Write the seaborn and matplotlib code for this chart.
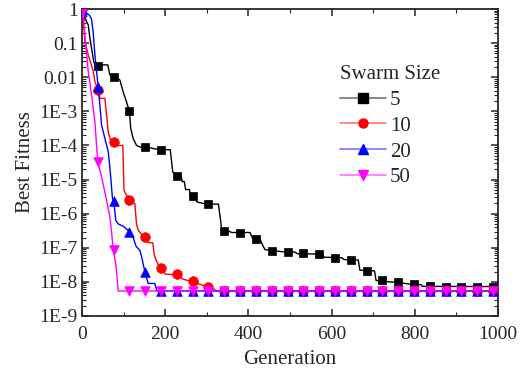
import numpy as np
import pandas as pd
import matplotlib
matplotlib.use("Agg")
import matplotlib.pyplot as plt
from matplotlib.lines import Line2D
from matplotlib.ticker import LogLocator, FixedLocator, FuncFormatter, MultipleLocator
import seaborn as sns

# ---------------- data ----------------
swarm_sizes = ["5", "10", "20", "50"]

# line traces: generation / best fitness
gen_5 = [0, 3, 8, 15, 19, 23, 28, 31, 62, 67, 80, 91, 99, 107, 114, 117, 123, 131, 140, 165,
         175, 200, 212, 215, 218, 225, 238, 241, 246, 249, 258, 261, 272, 276, 300, 328, 332,
         336, 350, 360, 404, 410, 428, 434, 440, 470, 480, 510, 518, 578, 582, 625, 630, 664,
         668, 703, 707, 740, 760, 790, 815, 818, 1000]
fit_5 = [1.0, 0.8, 0.5, 0.34, 0.14, 0.07, 0.03, 0.023, 0.023, 0.0116, 0.0104, 0.0083, 0.0037,
         0.0019, 0.001, 3.2e-4, 1.6e-4, 1.0e-4, 9e-5, 8.5e-5, 7.9e-5, 7.5e-5, 7.5e-5, 3.7e-5,
         1.7e-5, 1.3e-5, 1.3e-5, 8.7e-6, 8.7e-6, 5.1e-6, 5.1e-6, 3.4e-6, 3.4e-6, 2.2e-6, 1.9e-6,
         1.9e-6, 8.1e-7, 3.3e-7, 3.2e-7, 2.8e-7, 2.8e-7, 1.9e-7, 1.8e-7, 1.2e-7, 8.8e-8, 8e-8,
         7.7e-8, 7.6e-8, 6.7e-8, 6.5e-8, 5.3e-8, 5.1e-8, 4.5e-8, 4.4e-8, 2.2e-8, 2.1e-8, 1.1e-8,
         1.0e-8, 9.7e-9, 8.5e-9, 8.3e-9, 7.4e-9, 7.3e-9]

gen_10 = [0, 3, 7, 15, 27, 31, 39, 43, 55, 59, 63, 68, 75, 87, 98, 101, 104, 114, 123, 127,
          131, 135, 148, 155, 163, 170, 174, 178, 188, 200, 230, 243, 266, 290, 303, 315, 323, 1000]
fit_10 = [1.0, 0.53, 0.11, 0.045, 0.015, 0.0074, 0.0042, 0.0024, 0.0024, 7.9e-4, 2.5e-4,
          1.5e-4, 1.3e-4, 1.0e-4, 1.0e-4, 5e-6, 4e-6, 2.6e-6, 2.0e-6, 2.0e-6, 5e-7, 3.3e-7,
          2.1e-7, 1.5e-7, 1.4e-7, 1.4e-7, 6e-8, 4.4e-8, 2.5e-8, 1.7e-8, 1.6e-8, 1.2e-8, 1.0e-8,
          8e-9, 7.3e-9, 6.5e-9, 5.4e-9, 5.4e-9]

gen_20 = [0, 12, 18, 23, 27, 31, 35, 39, 43, 47, 55, 63, 66, 69, 73, 77, 81, 87, 99, 114, 123,
          130, 139, 144, 151, 159, 175, 180, 1000]
fit_20 = [0.85, 0.75, 0.65, 0.5, 0.2, 0.045, 0.015, 0.005, 0.0015, 4e-4, 1.6e-4, 6.6e-5, 3e-5,
          1.2e-5, 3e-6, 2e-6, 6.5e-7, 5e-7, 4.3e-7, 3e-7, 2e-7, 1.1e-7, 8.5e-8, 5e-8, 2.0e-8,
          9e-9, 9e-9, 5.4e-9, 5.4e-9]

gen_50 = [0, 3, 7, 15, 23, 31, 35, 38, 47, 59, 67, 71, 75, 82, 87, 1000]
fit_50 = [1.0, 0.75, 0.17, 0.015, 0.003, 5e-4, 1e-4, 3.3e-5, 1.2e-5, 2.5e-6, 8e-7, 3e-7, 9e-8,
          2.8e-8, 5.4e-9, 5.4e-9]

# marker values (one symbol every 38 generations)
marker_gens = list(range(0, 1000, 38))
mk_5 = [1.0, 0.022, 0.0104, 0.001, 9e-5, 7.5e-5, 1.3e-5, 3.3e-6, 1.9e-6, 3.2e-7, 2.8e-7, 1.85e-7,
        8e-8, 7.6e-8, 6.8e-8, 6.6e-8, 5.1e-8, 4.4e-8, 2.1e-8, 1.1e-8, 9.8e-9, 8.5e-9, 7.4e-9,
        7.3e-9, 7.3e-9, 7.3e-9, 7.3e-9]
mk_10 = [1.0, 0.0042, 1.3e-4, 2.6e-6, 2.1e-7, 2.5e-8, 1.7e-8, 1.05e-8, 7.3e-9] + [5.4e-9] * 18
mk_20 = [0.85, 0.005, 2.4e-6, 2.9e-7, 2.0e-8] + [5.4e-9] * 22
mk_50 = [0.83, 3.3e-5, 8.5e-8] + [5.4e-9] * 24

y_tick_values = [1, 0.1, 0.01, 1e-3, 1e-4, 1e-5, 1e-6, 1e-7, 1e-8, 1e-9]
y_tick_labels = ["1", "0.1", "0.01", "1E-3", "1E-4", "1E-5", "1E-6", "1E-7", "1E-8", "1E-9"]
x_ticks = [0, 200, 400, 600, 800, 1000]

# ---------------- style ----------------
sns.set_style("ticks")
plt.rcParams["font.family"] = ["Liberation Serif", "DejaVu Serif"]

colors = ["#000000", "#FF0000", "#0000FF", "#FF00FF"]
markers = ["s", "o", "^", "v"]
msizes = [38, 48, 48, 48]

fig = plt.figure(figsize=(5.26, 3.73), dpi=100)
ax = fig.add_axes([82 / 526, 1 - 316 / 373, (498 - 82) / 526, (316 - 9) / 373])

lines = [(gen_5, fit_5, mk_5), (gen_10, fit_10, mk_10), (gen_20, fit_20, mk_20), (gen_50, fit_50, mk_50)]
for i, (g, f, mk) in enumerate(lines):
    df = pd.DataFrame({"gen": g, "fit": f})
    sns.lineplot(data=df, x="gen", y="fit", color=colors[i], lw=1.0, estimator=None,
                 sort=False, ax=ax, zorder=2 + i, legend=False)
    dm = pd.DataFrame({"gen": marker_gens, "fit": mk})
    sns.scatterplot(data=dm, x="gen", y="fit", color=colors[i], marker=markers[i],
                    s=msizes[i], edgecolor=colors[i], linewidth=0.5, ax=ax,
                    zorder=2 + i, legend=False, clip_on=True)

ax.set_yscale("log")
ax.set_ylim(1e-9, 1)
ax.set_xlim(0, 1000)
ax.yaxis.set_major_locator(FixedLocator(y_tick_values))
ax.yaxis.set_major_formatter(FuncFormatter(
    lambda v, p: y_tick_labels[int(np.argmin([abs(np.log10(t) - np.log10(v)) for t in y_tick_values]))]))
ax.yaxis.set_minor_locator(LogLocator(base=10, subs=np.arange(2, 10), numticks=20))
ax.yaxis.set_minor_formatter(plt.NullFormatter())
ax.xaxis.set_major_locator(FixedLocator(x_ticks))
ax.xaxis.set_minor_locator(MultipleLocator(100))

for sp in ax.spines.values():
    sp.set_linewidth(1.3)
    sp.set_visible(True)
ax.tick_params(which="major", direction="in", length=5, width=1.1, labelsize=14,
               top=True, right=True)
ax.tick_params(axis="y", which="major", pad=3)
ax.tick_params(axis="x", which="major", pad=7)
ax.tick_params(which="minor", direction="in", length=3, width=0.8, top=True, right=True)

ax.set_xlabel("Generation", fontsize=15, labelpad=5)
ax.set_ylabel("Best Fitness", fontsize=15, labelpad=3)

handles = []
for i in range(4):
    r, g_, b, _ = matplotlib.colors.to_rgba(colors[i])
    handles.append(Line2D([], [], color=(r, g_, b, 0.55), lw=1.2, marker=markers[i],
                          markersize=6.5, markerfacecolor=colors[i], markeredgecolor=colors[i]))
leg = ax.legend(handles, swarm_sizes, title="Swarm Size", frameon=False, fontsize=15,
                title_fontsize=15, loc="upper left", bbox_to_anchor=(0.585, 0.865),
                handlelength=2.2, handletextpad=0.2, labelspacing=0.3, borderpad=0.2)
leg._legend_box.align = "left"

fig.savefig("out.png", dpi=100)
